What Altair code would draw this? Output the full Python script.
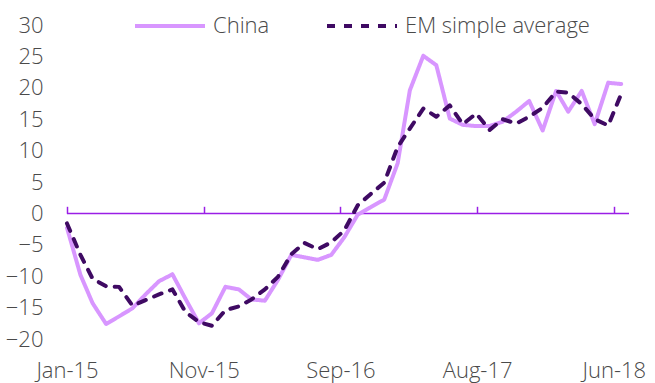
import altair as alt
import pandas as pd

# Monthly observations, Jan 2015 - Jul 2018
months = pd.date_range("2015-01-01", "2018-07-01", freq="MS")

china = [
    -2.3, -9.8, -14.3, -17.6, -16.4, -15.1, -12.9, -10.8, -9.7, -13.6, -17.5, -15.9,
    -11.7, -12.1, -13.7, -13.9, -10.6, -6.6, -7.0, -7.4, -6.6, -3.8, -0.2, 1.0,
    2.2, 8.0, 19.6, 25.1, 23.6, 15.1, 14.1, 13.9, 13.9, 14.6, 16.2, 17.9,
    13.2, 19.5, 16.2, 19.5, 14.2, 20.8, 20.6,
]
em_average = [
    -1.6, -6.6, -10.4, -11.6, -11.7, -14.7, -13.8, -12.9, -12.1, -15.7, -17.3, -17.9,
    -15.4, -14.8, -13.7, -12.1, -10.1, -6.5, -4.7, -5.7, -4.6, -2.7, 1.3, 3.1,
    4.9, 10.6, 13.5, 16.7, 15.4, 17.2, 14.2, 15.9, 13.3, 15.0, 14.3, 15.4,
    16.8, 19.4, 19.2, 17.4, 15.0, 14.0, 19.0,
]

series_names = ["China", "EM simple average"]
series_colors = ["#d896ff", "#3f0a63"]
series_dashes = [[1, 0], [8, 9]]

y_ticks = [-20, -15, -10, -5, 0, 5, 10, 15, 20, 25, 30]
x_start = alt.DateTime(year=2015, month=1, date=1)
x_end = alt.DateTime(year=2018, month=7, date=19)
x_ticks = [
    alt.DateTime(year=2015, month=1, date=1),
    alt.DateTime(year=2015, month=11, date=12),
    alt.DateTime(year=2016, month=9, date=22),
    alt.DateTime(year=2017, month=8, date=3),
    alt.DateTime(year=2018, month=6, date=14),
]

df = pd.concat([
    pd.DataFrame({"date": months, "value": china, "series": series_names[0]}),
    pd.DataFrame({"date": months, "value": em_average, "series": series_names[1]}),
])

FONT = "Open Sans"
FONT_SIZE = 22
AXIS_PURPLE = "#9a1ee6"
TEXT_GREY = "#4a4a4a"

x_scale = alt.Scale(domain=[x_start, x_end])
y_scale = alt.Scale(domain=[-20, 30], nice=False)

y_axis = alt.Axis(
    values=y_ticks, domain=False, ticks=False, grid=False, labelPadding=24,
    labelFont=FONT, labelFontSize=FONT_SIZE, labelFontWeight=300,
    labelColor=TEXT_GREY, labelOverlap=False, labelFlush=False, title=None,
)

legend = alt.Legend(
    title=None, orient="none", direction="horizontal", legendX=66, legendY=-36,
    symbolType="stroke", symbolSize=4900, symbolStrokeWidth=4,
    labelFont=FONT, labelFontSize=FONT_SIZE, labelFontWeight=300, labelColor=TEXT_GREY,
    labelOffset=6, labelLimit=400, columnPadding=49,
)

lines = alt.Chart(df).mark_line(strokeWidth=4, strokeCap="round", strokeJoin="round").encode(
    x=alt.X(
        "date:T",
        scale=x_scale,
        title=None,
        axis=alt.Axis(
            values=x_ticks, format="%b-%y", orient="bottom", domain=False, ticks=False,
            grid=False, labelPadding=21, labelFont=FONT, labelFontSize=FONT_SIZE,
            labelFontWeight=300, labelColor=TEXT_GREY, labelOverlap=False,
            labelFlush=False, labelAlign="center",
        ),
    ),
    y=alt.Y("value:Q", scale=y_scale, title=None, axis=y_axis),
    color=alt.Color(
        "series:N",
        scale=alt.Scale(domain=series_names, range=series_colors),
        legend=legend,
    ),
    strokeDash=alt.StrokeDash(
        "series:N",
        scale=alt.Scale(domain=series_names, range=series_dashes),
        legend=legend,
    ),
)

# Zero line with upward tick marks at the labelled dates
zero_axis = alt.Chart(pd.DataFrame({"v": [0]})).mark_rule(color=AXIS_PURPLE, strokeWidth=1.5).encode(
    x=alt.X(
        datum=x_start,
        type="temporal",
        scale=x_scale,
        axis=alt.Axis(
            values=x_ticks, orient="top", offset=-188.3, labels=False, domain=False,
            ticks=True, tickSize=7, tickWidth=1.5, tickColor=AXIS_PURPLE, grid=False, title=None,
        ),
    ),
    x2=alt.X2(datum=x_end),
    y=alt.Y(datum=0, type="quantitative", scale=y_scale, axis=y_axis),
)

chart = alt.layer(zero_axis, lines).resolve_axis(x="independent").properties(
    width=562,
    height=314,
    autosize=alt.AutoSizeParams(type="none"),
    padding={"left": 67, "top": 25, "right": 26, "bottom": 44},
).configure_view(stroke=None)

chart.save("out.html", embed_options={"renderer": "svg", "actions": False})
